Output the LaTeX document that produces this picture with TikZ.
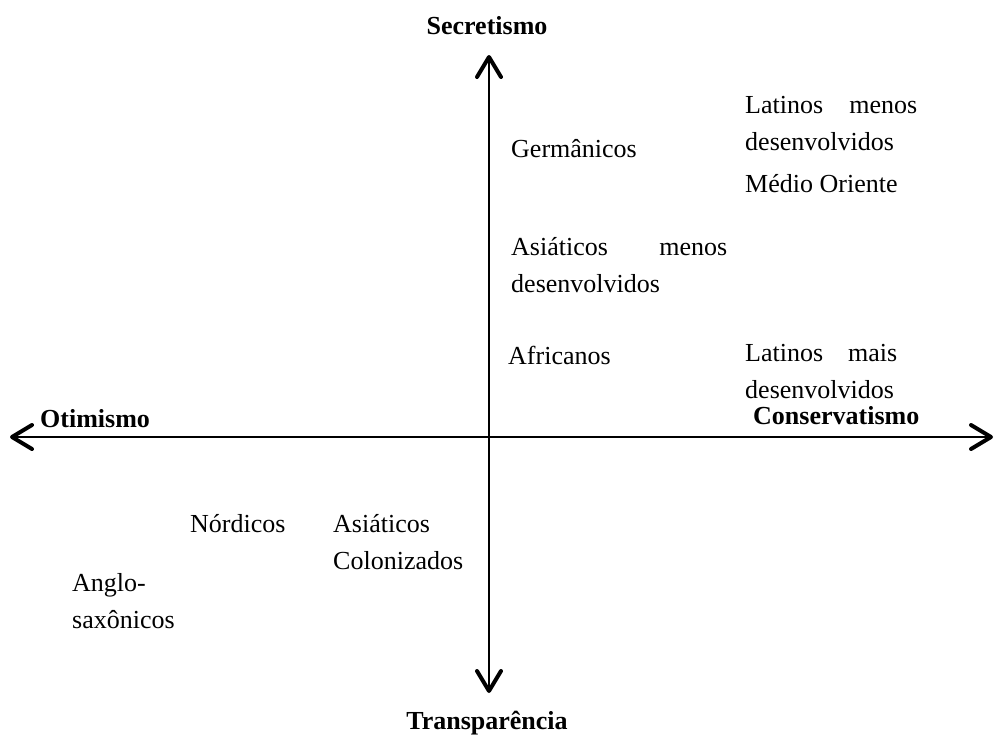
\documentclass[tikz,border=0pt]{standalone}
\usepackage{fontspec}
\setmainfont{Liberation Serif}
\usetikzlibrary{arrows.meta}
\newcommand{\twoln}[2]{\vtop{\hbox{#1}\hbox{#2}}}
\begin{document}
\begin{tikzpicture}[x=1pt,y=-1pt,
  lbl/.style={anchor=base west, inner sep=0pt, font=\fontsize{26}{37}\selectfont},
  ttl/.style={inner sep=0pt, font=\fontsize{26}{37}\selectfont\bfseries},
  axisline/.style={line width=2pt, {Straight Barb[length=20pt,width=24pt,line width=4pt,round]}-{Straight Barb[length=20pt,width=24pt,line width=4pt,round]}}]
\useasboundingbox (0,0) rectangle (995,740);
\coordinate (top) at (489,55);
\coordinate (bot) at (489,693);
\coordinate (lft) at (10,437);
\coordinate (rgt) at (993,437);
\draw[axisline] (bot) -- (top);
\draw[axisline] (lft) -- (rgt);
\node[ttl, anchor=base] (sec) at (487,34) {Secretismo};
\node[ttl, anchor=base] (tra) at (487,729) {Transparência};
\node[ttl, anchor=base west] (oti) at (40,427) {Otimismo};
\node[ttl, anchor=base west] (con) at (753,424) {Conservatismo};
\node[lbl] (lmen) at (745,113) {\twoln{\hbox to 172pt{Latinos\hfill menos}}{desenvolvidos}};
\node[lbl] (ger) at (511,157) {Germânicos};
\node[lbl] (med) at (745,192) {Médio Oriente};
\node[lbl] (amen) at (511,255) {\twoln{\hbox to 216pt{Asiáticos\hfill menos}}{desenvolvidos}};
\node[lbl] (afr) at (508,364) {Africanos};
\node[lbl] (lmai) at (745,361) {\twoln{\hbox to 152pt{Latinos\hfill mais}}{desenvolvidos}};
\node[lbl] (nor) at (190,532) {Nórdicos};
\node[lbl] (acol) at (333,532) {\twoln{Asiáticos}{Colonizados}};
\node[lbl] (ang) at (72,591) {\twoln{Anglo-}{saxônicos}};
\end{tikzpicture}
\end{document}
